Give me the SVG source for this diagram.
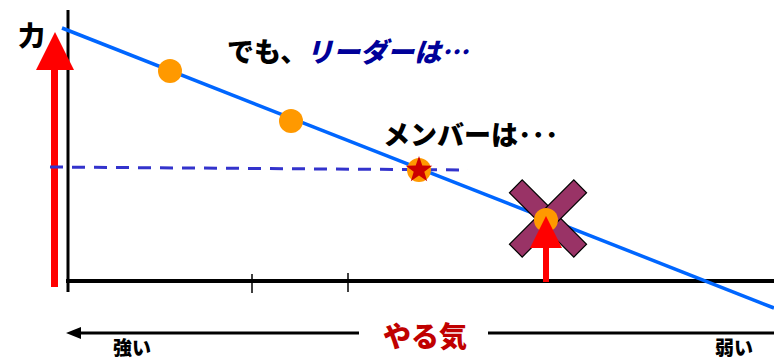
<svg xmlns="http://www.w3.org/2000/svg" width="774" height="359" viewBox="0 0 774 359">
<style>
.t{font-family:"Noto Sans CJK JP","Noto Sans CJK SC",sans-serif;font-weight:900}
.dot{fill:#ff9900}
</style>
<rect width="774" height="359" fill="#fff"/>
<g id="axes">
<line x1="68" y1="10" x2="68" y2="292" stroke="#000" stroke-width="3"/>
<line x1="66" y1="281" x2="774" y2="281" stroke="#000" stroke-width="4"/>
<line x1="252" y1="274" x2="252" y2="293" stroke="#000" stroke-width="1.5"/>
<line x1="348" y1="273" x2="348" y2="292" stroke="#000" stroke-width="1.5"/>
</g>
<g id="red-arrow-left">
<rect x="51" y="68" width="7" height="219" fill="#ff0000"/>
<polygon points="55,32 74,70 36,70" fill="#ff0000"/>
</g>
<g id="connectors">
<line x1="50" y1="167" x2="468" y2="170" stroke="#3333cc" stroke-width="3" stroke-dasharray="13,9"/>
<line x1="62" y1="28" x2="774" y2="308" stroke="#0066ff" stroke-width="3.5"/>
<line x1="359" y1="333" x2="78" y2="333" stroke="#000" stroke-width="3"/>
<polygon points="66,333 81,327 81,339" fill="#000"/>
<line x1="488" y1="333" x2="774" y2="333" stroke="#000" stroke-width="3"/>
</g>
<g id="p1"><circle class="dot" cx="170" cy="71" r="12"/></g>
<g id="p2"><circle class="dot" cx="291" cy="121" r="12"/></g>
<g id="p3">
<circle class="dot" cx="419" cy="170" r="12"/>
<polygon fill="#cc0000" points="419,156 422.3,165.5 432.3,165.7 424.3,171.7 427.2,181.3 419,175.5 410.8,181.3 413.7,171.7 405.7,165.7 415.7,165.5"/>
</g>
<g id="x-mark" transform="rotate(45 548 218.5)">
<rect x="502.5" y="209.5" width="91" height="18" fill="#993366" stroke="#000" stroke-width="1.2"/>
<rect x="539" y="173" width="18" height="91" fill="#993366" stroke="#000" stroke-width="1.2"/>
</g>
<g id="p4"><circle class="dot" cx="546" cy="220" r="12"/></g>
<g id="red-arrow-right">
<rect x="543" y="240" width="6" height="42" fill="#ff0000"/>
<polygon points="546,216 562,248 530,248" fill="#ff0000"/>
</g>
<g id="labels">
<text class="t" x="18" y="46" font-size="27" fill="#000">力</text>
<text class="t" x="227" y="62" font-size="27" fill="#000">でも、</text>
<text class="t" x="306" y="62" font-size="27" fill="#000099" font-style="italic">リーダーは…</text>
<text class="t" x="383" y="145" font-size="27" fill="#000">メンバーは･･･</text>
<text class="t" x="383" y="347" font-size="28" fill="#c00000">やる気</text>
<text class="t" x="113" y="355" font-size="19" fill="#000">強い</text>
<text class="t" x="715" y="355" font-size="19" fill="#000">弱い</text>
</g>
</svg>
